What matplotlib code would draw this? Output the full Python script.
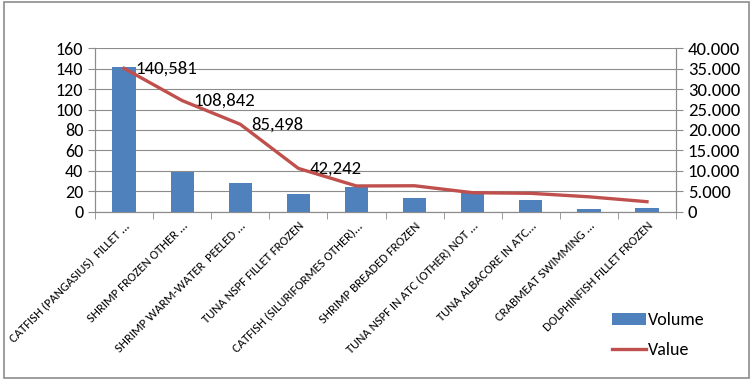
import matplotlib.pyplot as plt
from matplotlib.patches import Rectangle
from matplotlib.ticker import FuncFormatter, MultipleLocator, FixedLocator

plt.rcParams['font.family'] = ['Carlito', 'Lato', 'DejaVu Sans']

products = ["CATFISH (PANGASIUS)  FILLET ...", "SHRIMP FROZEN OTHER ...",
            "SHRIMP WARM-WATER  PEELED ...", "TUNA NSPF FILLET FROZEN",
            "CATFISH (SILURIFORMES OTHER)...", "SHRIMP BREADED FROZEN",
            "TUNA NSPF IN ATC (OTHER) NOT ...", "TUNA ALBACORE IN ATC...",
            "CRABMEAT SWIMMING ...", "DOLPHINFISH FILLET FROZEN"]
volume = [142, 39, 28, 17, 24, 13.4, 19, 11.5, 2.6, 3.6]
value = [35100, 27200, 21400, 10600, 6300, 6350, 4650, 4500, 3650, 2450]
point_labels = ["140,581", "108,842", "85,498", "42,242"]

bar_col = '#4F81BD'
line_col = '#C0504D'
grid_col = '#8C8C8C'

fig = plt.figure(figsize=(7.54, 3.82), dpi=100)
ax = fig.add_axes([0.126, 0.4458, 0.7706, 0.4278])
ax2 = ax.twinx()

x = list(range(len(products)))
ax.bar(x, volume, width=0.4, color=bar_col, zorder=3, label='Volume')
ax2.plot(x, value, color=line_col, linewidth=2.4, zorder=4, label='Value')
for i, txt in enumerate(point_labels):
    ax2.annotate(txt, (x[i], value[i]), xytext=(8, 0), textcoords='offset points',
                 va='center', ha='left', fontsize=13.5)

ax.set_xlim(-0.5, len(products) - 0.5)
ax.set_ylim(0, 160)
ax2.set_ylim(0, 40000)
ax.yaxis.set_major_locator(MultipleLocator(20))
ax2.yaxis.set_major_locator(MultipleLocator(5000))
ax2.yaxis.set_major_formatter(FuncFormatter(lambda v, p: '0' if v == 0 else f'{v/1000:.3f}'))

ax.grid(axis='y', color=grid_col, linewidth=0.8, zorder=0)
ax.set_axisbelow(True)

ax.set_xticks(x)
ax.set_xticklabels(products, rotation=45, ha='right', rotation_mode='anchor', fontsize=9.2)
ax.xaxis.set_minor_locator(FixedLocator([i - 0.5 for i in range(len(products) + 1)]))
ax.tick_params(axis='x', which='major', length=0, pad=6)
ax.tick_params(axis='x', which='minor', length=5, color=grid_col)
ax.tick_params(axis='y', length=5, color=grid_col, labelsize=13)
ax2.tick_params(axis='y', length=5, color=grid_col, labelsize=13.5)

for a in (ax, ax2):
    a.spines['top'].set_visible(False)
    for s in ('left', 'right', 'bottom'):
        a.spines[s].set_color(grid_col)

fig.legend(loc='upper left', bbox_to_anchor=(0.79, 0.225), frameon=False,
           fontsize=13, handlelength=1.9, handleheight=0.7, labelspacing=0.75,
           handletextpad=0.1)

fig.patches.append(Rectangle((0.005, 0.01), 0.989, 0.985, transform=fig.transFigure,
                             fill=False, edgecolor='#8C8C8C', linewidth=1.2))

fig.savefig('out.png', dpi=100)
